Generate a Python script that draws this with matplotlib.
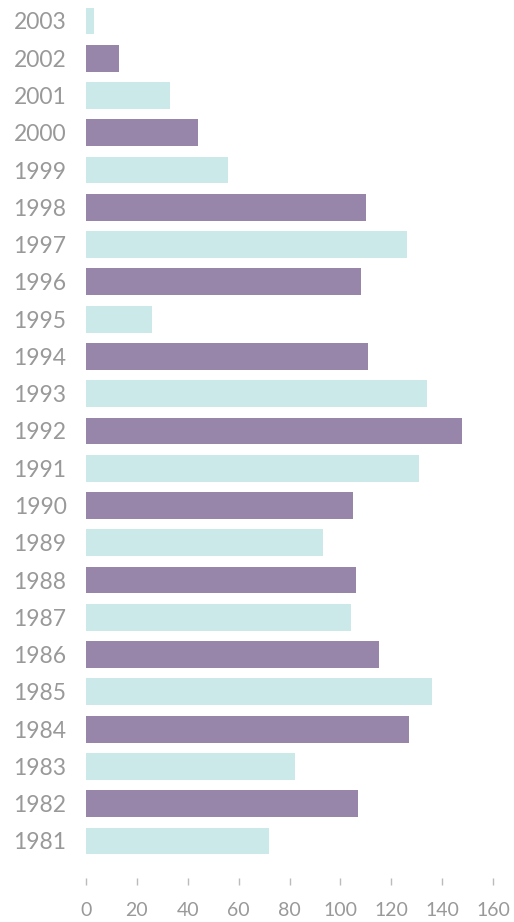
import matplotlib
matplotlib.use("Agg")
import matplotlib.pyplot as plt

# === Data ===
years = list(range(1981, 2004))
values = [72, 107, 82, 127, 136, 115, 104, 106, 93, 105, 131, 148,
          134, 111, 26, 108, 126, 110, 56, 44, 33, 13, 3]

CYAN = "#cce9e9"
PURPLE = "#9786a9"
TEXT = "#999999"

W, H = 514, 922
fig = plt.figure(figsize=(W / 100, H / 100), dpi=100)

# axes placed in pixel terms: x=0 at 86px, x=160 at 493px
left, right = 86, 493
top, bottom = 0, 878
ax = fig.add_axes([left / W, 1 - bottom / H, (right - left) / W, (bottom - top) / H])

colors = [CYAN if i % 2 == 0 else PURPLE for i in range(len(years))]
ax.barh(range(len(years)), values, height=0.72, color=colors)

ax.set_xlim(0, 160)
ax.set_ylim(-0.993, 22.563)
ax.set_xticks(range(0, 161, 20))
ax.set_yticks(range(len(years)))
ax.set_yticklabels([str(y) for y in years])

for s in ax.spines.values():
    s.set_visible(False)

ax.tick_params(axis="y", length=0, pad=14, labelsize=16.5, labelcolor=TEXT)
ax.tick_params(axis="x", length=5, width=1, color="#bbbbbb", pad=12,
               labelsize=14, labelcolor=TEXT)
for lab in ax.get_yticklabels() + ax.get_xticklabels():
    lab.set_fontfamily("Lato")

fig.savefig("out.png", dpi=100)
